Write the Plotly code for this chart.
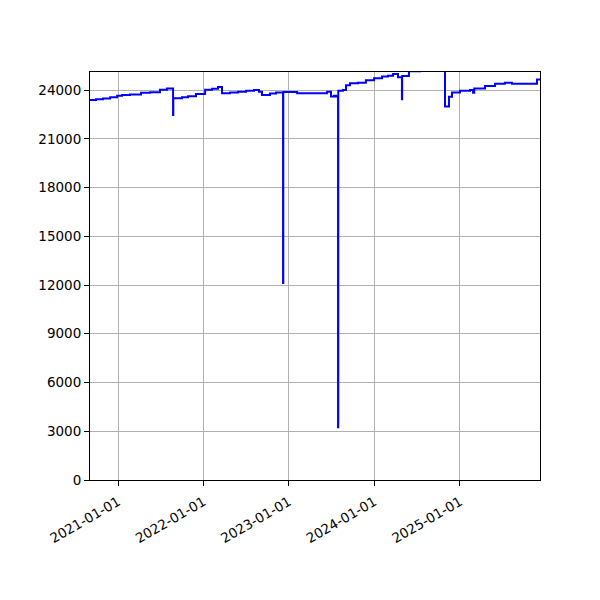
import plotly.graph_objects as go

# step points (date, value)
dates = [
    "2020-09-03", "2020-09-29", "2020-10-29", "2020-11-28", "2020-12-28",
    "2021-01-18", "2021-02-21", "2021-04-09", "2021-05-18", "2021-06-29",
    "2021-07-29", "2021-08-24", "2021-08-25", "2021-10-01", "2021-10-27",
    "2021-11-30", "2022-01-08", "2022-02-07", "2022-03-04", "2022-03-21",
    "2022-04-24", "2022-05-29", "2022-07-02", "2022-08-05", "2022-08-26",
    "2022-09-08", "2022-10-12", "2022-11-07", "2022-12-07", "2022-12-08",
    "2023-02-05", "2023-06-13", "2023-06-30", "2023-07-13", "2023-07-21",
    "2023-07-30", "2023-07-31", "2023-08-20", "2023-09-02", "2023-09-19",
    "2023-10-23", "2023-11-26", "2023-12-31", "2024-02-03", "2024-02-28",
    "2024-03-21", "2024-04-11", "2024-04-28", "2024-04-29", "2024-05-28",
    "2024-07-14", "2024-10-29", "2024-11-15", "2024-11-28", "2025-01-01",
    "2025-02-13", "2025-02-26", "2025-03-03", "2025-04-18", "2025-05-31",
    "2025-07-12", "2025-08-11", "2025-11-26", "2025-12-09",
]
values = [
    23380, 23430, 23480, 23550, 23650,
    23700, 23730, 23830, 23870, 24020,
    24100, 22460, 23490, 23560, 23620,
    23750, 24020, 24080, 24180, 23800,
    23850, 23900, 23950, 24000, 23900,
    23700, 23780, 23850, 12120, 23880,
    23800, 23900, 23600, 23650, 23600,
    3250, 23950, 24000, 24300, 24420,
    24450, 24600, 24730, 24830, 24880,
    24980, 24780, 23430, 24860, 25150,
    25200, 22980, 23580, 23850, 23960,
    24000, 23840, 24100, 24250, 24380,
    24450, 24380, 24650, 24650,
]

y_ticks = [0, 3000, 6000, 9000, 12000, 15000, 18000, 21000, 24000]
x_ticks = ["2021-01-01", "2022-01-01", "2023-01-01", "2024-01-01", "2025-01-01"]

fig = go.Figure()
fig.add_trace(go.Scatter(x=dates, y=values, mode="lines", line_shape="hv",
                         line=dict(color="#0000ff", width=2)))

# page body has an 8px margin, so the figure is a little smaller
fig.update_layout(
    width=592, height=592,
    margin=dict(l=82, r=60, t=64, b=120),
    paper_bgcolor="white", plot_bgcolor="white",
    showlegend=False,
    font=dict(family="DejaVu Sans", size=13.5, color="black"),
)
fig.update_xaxes(
    type="date", range=["2020-09-03", "2025-12-09"],
    tickvals=x_ticks, ticktext=x_ticks, tickangle=-30,
    showgrid=True, gridcolor="#b0b0b0", gridwidth=1,
    showline=True, linecolor="black", linewidth=1, mirror=True,
    ticks="outside", ticklen=5, tickcolor="black", zeroline=False,
    ticklabelstandoff=3,
)
fig.update_yaxes(
    range=[0, 25110], tickvals=y_ticks, ticktext=[str(v) for v in y_ticks],
    showgrid=True, gridcolor="#b0b0b0", gridwidth=1,
    showline=True, linecolor="black", linewidth=1, mirror=True,
    ticks="outside", ticklen=5, tickcolor="black", zeroline=False,
)

fig.write_html("out.html")
